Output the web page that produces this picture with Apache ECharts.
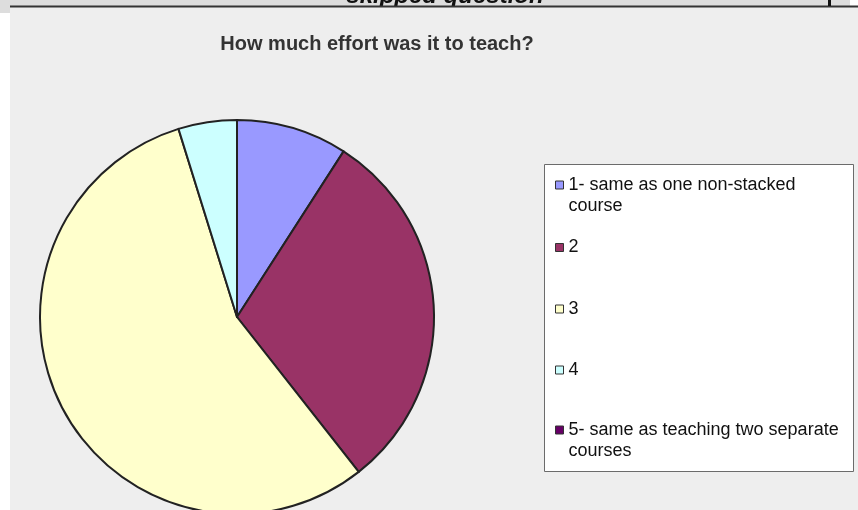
<!DOCTYPE html>
<html><head><meta charset="utf-8">
<script src="https://cdn.jsdelivr.net/npm/echarts@6/dist/echarts.min.js"></script>
<style>html,body{margin:0;padding:0;background:#fff;}#c{width:858px;height:510px;}</style>
</head><body><div id="c"></div>
<script>
const titleText = 'How much effort was it to teach?';
const headerText = 'skipped question';
const categories = ['1- same as one non-stacked course', '2', '3', '4', '5- same as teaching two separate courses'];
const values = [9.1, 30.3, 55.8, 4.8, 0];
const colors = ['#9999FF', '#993366', '#FFFFCC', '#CCFFFF', '#660066'];
const legendLines = [['1- same as one non-stacked', 'course'], ['2'], ['3'], ['4'], ['5- same as teaching two separate', 'courses']];

const chart = echarts.init(document.getElementById('c'), null, {renderer: 'canvas'});
const legendTops = [153.5, 237, 298.5, 359.5, 398.5];
const legends = categories.map((name, i) => ({
  data: [name],
  orient: 'vertical',
  left: 555,
  top: legendTops[i],
  padding: 0,
  itemWidth: 8,
  itemHeight: 8,
  itemGap: 0,
  icon: 'rect',
  selectedMode: false,
  itemStyle: {borderWidth: 1, borderColor: '#333'},
  textStyle: {fontFamily: 'Liberation Sans', fontSize: 18, color: '#111', lineHeight: 21},
  formatter: () => legendLines[i].length > 1 ? '\n' + legendLines[i].join('\n') : legendLines[i][0]
}));

chart.setOption({
  animation: false,
  backgroundColor: '#ffffff',
  graphic: [
    {type: 'rect', z: -10, shape: {x: 0, y: 0, width: 850, height: 7}, style: {fill: '#DDDDDD'}},
    {type: 'rect', z: -10, shape: {x: 0, y: 0, width: 10, height: 13}, style: {fill: '#DDDDDD'}},
    {type: 'text', z: -9, x: 445, y: -4, style: {text: headerText, fontFamily: 'Liberation Sans', fontSize: 24, fontWeight: 'bold', fontStyle: 'italic', fill: '#111', align: 'center', verticalAlign: 'middle'}},
    {type: 'rect', z: -8, shape: {x: 10, y: 7, width: 848, height: 503}, style: {fill: '#EEEEEE'}},
    {type: 'line', z: -7, shape: {x1: 10, y1: 6.5, x2: 858, y2: 6.5}, style: {stroke: '#333', lineWidth: 2}},
    {type: 'rect', z: -7, shape: {x: 828, y: 0, width: 3, height: 6}, style: {fill: '#111'}},
    {type: 'text', z: -7, x: 377, y: 44, style: {text: titleText, fontFamily: 'Liberation Sans', fontSize: 20, fontWeight: 'bold', fill: '#333', align: 'center', verticalAlign: 'middle'}},
    {type: 'rect', z: -6, shape: {x: 544.5, y: 164.5, width: 309, height: 307}, style: {fill: '#ffffff', stroke: '#6b6b6b', lineWidth: 1}}
  ],
  legend: legends,
  series: [{
    type: 'pie',
    center: [237, 317],
    radius: 197,
    startAngle: 90,
    clockwise: true,
    avoidLabelOverlap: false,
    label: {show: false},
    labelLine: {show: false},
    emphasis: {disabled: true},
    itemStyle: {borderColor: '#222', borderWidth: 2},
    data: categories.map((name, i) => ({name: name, value: values[i], itemStyle: {color: colors[i]}}))
  }]
});
</script></body></html>
